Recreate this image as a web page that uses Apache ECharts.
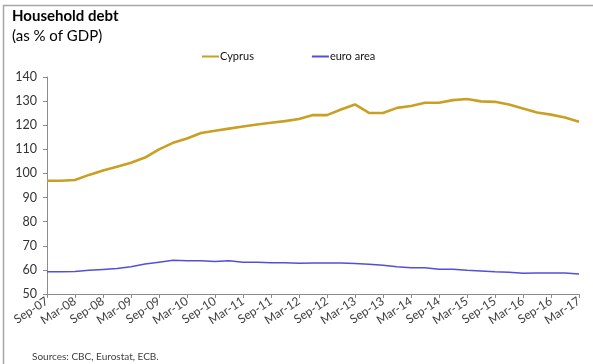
<!DOCTYPE html>
<html><head><meta charset="utf-8">
<script src="https://cdn.jsdelivr.net/npm/echarts@6/dist/echarts.min.js"></script>
<style>html,body{margin:0;padding:0;background:#fff}#c{width:593px;height:364px}</style>
</head><body><div id="c"></div>
<script>
const categories = ['Sep-07','Dec-07','Mar-08','Jun-08','Sep-08','Dec-08','Mar-09','Jun-09','Sep-09','Dec-09',
'Mar-10','Jun-10','Sep-10','Dec-10','Mar-11','Jun-11','Sep-11','Dec-11','Mar-12','Jun-12',
'Sep-12','Dec-12','Mar-13','Jun-13','Sep-13','Dec-13','Mar-14','Jun-14','Sep-14','Dec-14',
'Mar-15','Jun-15','Sep-15','Dec-15','Mar-16','Jun-16','Sep-16','Dec-16','Mar-17'];
const cyprus = [97,97,97.3,99.4,101.2,102.8,104.4,106.6,110,112.7,114.5,116.8,117.7,118.6,119.5,120.3,121,121.7,122.6,124.2,
124.2,126.5,128.6,125.1,125.1,127.2,128,129.3,129.3,130.4,130.9,129.9,129.7,128.6,126.9,125.3,124.4,123.2,121.4];
const euro = [59.2,59.2,59.3,59.8,60.2,60.6,61.3,62.4,63.2,64,63.8,63.8,63.5,63.8,63.2,63.2,63,63,62.8,62.9,
62.9,62.9,62.6,62.3,61.9,61.3,60.9,60.9,60.3,60.3,59.8,59.5,59.2,59,58.6,58.7,58.7,58.7,58.3];
const yTicks = {min:50, max:140, interval:10};

const chart = echarts.init(document.getElementById('c'), null, {renderer:'canvas'});
const font = 'Lato, "Open Sans", sans-serif';
chart.setOption({
  animation:false,
  textStyle:{fontFamily:font},
  graphic:[
    {type:'polyline', shape:{points:[[3.5,364],[3.5,5.5],[593,5.5]]}, style:{stroke:'#a6a6a6', lineWidth:1.5, fill:null}},
    {type:'text', left:12, top:9, style:{text:'Household debt', font:'bold 15px '+font, fill:'#000'}},
    {type:'text', left:12, top:29, style:{text:'(as % of GDP)', font:'15px '+font, fill:'#000'}},
    {type:'text', left:32, top:352, style:{text:'Sources: CBC, Eurostat, ECB.', font:'10px '+font, fill:'#404040'}}
  ],
  legend:{
    top:46, left:197, itemGap:58, itemWidth:17, itemHeight:2, icon:'rect',
    textStyle:{fontSize:11, color:'#111', fontFamily:font, padding:[0,0,0,-4]},
    data:['Cyprus','euro area']
  },
  grid:{left:47, right:14, top:77, bottom:70},
  xAxis:{
    type:'category', data:categories, boundaryGap:false,
    axisLine:{lineStyle:{color:'#8c8c8c'}},
    axisTick:{interval:1, length:4, lineStyle:{color:'#8c8c8c'}},
    axisLabel:{interval:1, rotate:33, color:'#404040', fontSize:12, margin:6, fontFamily:font}
  },
  yAxis:{
    type:'value', min:yTicks.min, max:yTicks.max, interval:yTicks.interval,
    axisLine:{show:true, lineStyle:{color:'#8c8c8c'}},
    axisTick:{show:true, length:4, lineStyle:{color:'#8c8c8c'}},
    splitLine:{show:false},
    axisLabel:{color:'#333', fontSize:12.5, margin:10, fontFamily:font}
  },
  series:[
    {name:'Cyprus', type:'line', data:cyprus, symbol:'none', lineStyle:{color:'#C9A024', width:2.6}, itemStyle:{color:'#C9A024'}},
    {name:'euro area', type:'line', data:euro, symbol:'none', lineStyle:{color:'#5050D8', width:1.5}, itemStyle:{color:'#5050D8'}}
  ]
});
</script></body></html>
